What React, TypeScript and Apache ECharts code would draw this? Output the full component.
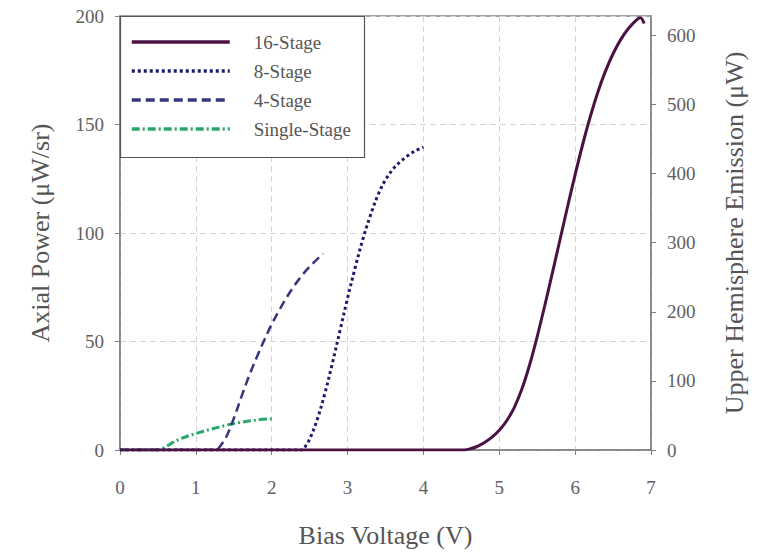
import React, { useEffect, useRef } from 'react';
import * as echarts from 'echarts';

const seriesNames = ['16-Stage', '8-Stage', '4-Stage', 'Single-Stage'];

const stage16: number[][] = [
  [0, 0], [4.5, 0], [4.6, 0.4], [4.7, 1.5], [4.8, 3.3], [4.9, 5.8], [5.0, 9.1], [5.1, 13.6], [5.2, 19.8],
  [5.3, 28.3], [5.4, 39.3], [5.5, 52.3], [5.6, 66.6], [5.7, 81.6], [5.8, 96.9], [5.9, 112.1], [6.0, 126.9],
  [6.1, 140.9], [6.2, 153.7], [6.3, 165], [6.4, 174.6], [6.5, 182.6], [6.6, 189.1], [6.7, 194.1],
  [6.8, 197.9], [6.86, 199.2], [6.91, 196.5],
];
const stage8: number[][] = [
  [0, 0], [2.4, 0], [2.45, 2], [2.5, 5], [2.6, 14], [2.7, 26], [2.8, 40], [2.9, 55], [3.0, 70],
  [3.1, 84], [3.2, 97], [3.3, 108], [3.4, 117.5], [3.5, 124.5], [3.6, 129.5], [3.7, 133],
  [3.8, 135.8], [3.9, 138], [4.0, 139.6],
];
const stage4: number[][] = [
  [0, 0], [1.27, 0], [1.3, 0.8], [1.4, 6], [1.5, 14.5], [1.6, 24.5], [1.7, 34], [1.8, 42.5],
  [1.9, 50.5], [2.0, 58], [2.1, 64.5], [2.2, 70.5], [2.3, 75.8], [2.4, 80.5], [2.5, 84.5],
  [2.6, 88], [2.68, 90.5],
];
const stageSingle: number[][] = [
  [0, 0], [0.5, 0], [0.6, 1.5], [0.7, 3.5], [0.8, 5.2], [0.9, 6.5], [1.0, 7.6], [1.2, 9.6],
  [1.4, 11.4], [1.6, 12.8], [1.8, 13.8], [2.0, 14.4],
];

const xTicks = { min: 0, max: 7, interval: 1 };
const leftTicks = { min: 0, max: 200, interval: 50 };
const rightTicks = { min: 0, max: 628, interval: 100 };

const FONT = 'Liberation Serif';
const GREY = '#555';

export default function App() {
  const ref = useRef<HTMLDivElement>(null);
  useEffect(() => {
    if (!ref.current) return;
    const chart = echarts.init(ref.current, undefined, { renderer: 'svg' });
    const axisCommon = {
      axisLine: { show: true, lineStyle: { color: '#808080', width: 1.5 } },
      axisTick: { show: true, inside: false, length: 5, lineStyle: { color: '#808080' } },
      axisLabel: { color: '#606060', fontFamily: FONT, fontSize: 19 },
      nameTextStyle: { color: GREY, fontFamily: FONT, fontSize: 26 },
    };
    const split = { show: true, lineStyle: { color: '#d4d4d4', type: [6, 4] as any, width: 1 } };
    const lineCommon = { showSymbol: false, symbol: 'none', smooth: 0.35 };
    chart.setOption({
      animation: false,
      backgroundColor: '#fff',
      grid: { left: 120, right: 109, top: 16, bottom: 102, show: true, borderColor: '#808080', borderWidth: 1.5 },
      xAxis: {
        type: 'value', ...xTicks,
        name: 'Bias Voltage (V)', nameLocation: 'middle', nameGap: 72,
        ...axisCommon,
        axisLabel: { ...axisCommon.axisLabel, margin: 28 },
        splitLine: split,
      },
      yAxis: [
        {
          type: 'value', ...leftTicks, position: 'left',
          name: 'Axial Power (μW/sr)', nameLocation: 'middle', nameGap: 67, nameRotate: 90,
          ...axisCommon,
          axisLabel: { ...axisCommon.axisLabel, margin: 16 },
          splitLine: split,
        },
        {
          type: 'value', ...rightTicks, position: 'right',
          name: 'Upper Hemisphere Emission (μW)', nameLocation: 'middle', nameGap: 70, nameRotate: 90,
          ...axisCommon,
          axisLabel: { ...axisCommon.axisLabel, margin: 16, showMaxLabel: false },
          splitLine: { show: false },
        },
      ],
      legend: {
        orient: 'vertical', left: 130, top: 32, padding: 0,
        itemWidth: 98, itemHeight: 14, itemGap: 9,
        data: seriesNames,
        itemStyle: { opacity: 0 },
        lineStyle: { width: 3.5 },
        textStyle: { fontFamily: FONT, fontSize: 19, color: '#555', lineHeight: 20, padding: [0, 0, 0, 19] },
        z: 5,
      },
      graphic: [
        {
          type: 'rect', z: 3,
          shape: { x: 120.5, y: 16.5, width: 244, height: 141 },
          style: { fill: '#fff', stroke: '#555', lineWidth: 1.2 },
        },
      ],
      series: [
        {
          name: seriesNames[3], type: 'line', data: stageSingle, ...lineCommon, z: 3,
          lineStyle: { color: '#2aa86a', width: 3, type: [8, 3, 2, 3] },
          itemStyle: { color: '#2aa86a' },
        },
        {
          name: seriesNames[2], type: 'line', data: stage4, ...lineCommon, z: 4,
          lineStyle: { color: '#36367e', width: 2.5, type: [9, 5] },
          itemStyle: { color: '#36367e' },
        },
        {
          name: seriesNames[1], type: 'line', data: stage8, ...lineCommon, z: 4,
          lineStyle: { color: '#1c1c6b', width: 3, type: [3, 3] },
          itemStyle: { color: '#1c1c6b' },
        },
        {
          name: seriesNames[0], type: 'line', data: stage16, ...lineCommon, z: 5,
          lineStyle: { color: '#4a1242', width: 3 },
          itemStyle: { color: '#4a1242' },
        },
      ],
    });
    return () => chart.dispose();
  }, []);
  return <div ref={ref} style={{ position: 'absolute', left: 0, top: 0, width: 760, height: 553 }} />;
}
